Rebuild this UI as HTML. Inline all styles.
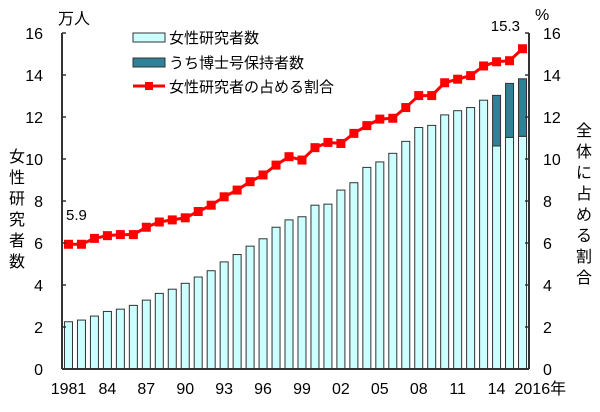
<!DOCTYPE html>
<html><head><meta charset="utf-8"><style>
body{margin:0;background:#fff;}
svg text{font-family:"Liberation Sans","Noto Sans CJK JP",sans-serif;fill:#000;}
</style></head><body>
<svg id="chart" width="600" height="407" xmlns="http://www.w3.org/2000/svg">
<g id="bars"></g>
<g id="line"></g>
<g id="axes"></g>
<text x="58" y="24" font-size="16">万人</text>
<text x="535" y="20" font-size="16">%</text>
<text x="66" y="220" font-size="15">5.9</text>
<text x="520" y="31" font-size="15" text-anchor="end">15.3</text>
<text font-size="16" text-anchor="middle">
<tspan x="17" y="162">女</tspan><tspan x="17" y="183">性</tspan><tspan x="17" y="204">研</tspan><tspan x="17" y="225">究</tspan><tspan x="17" y="246">者</tspan><tspan x="17" y="267">数</tspan></text>
<text font-size="16" text-anchor="middle">
<tspan x="584" y="136">全</tspan><tspan x="584" y="157">体</tspan><tspan x="584" y="178">に</tspan><tspan x="584" y="199">占</tspan><tspan x="584" y="220">め</tspan><tspan x="584" y="241">る</tspan><tspan x="584" y="262">割</tspan><tspan x="584" y="283">合</tspan></text>
<g>
<rect x="133" y="33" width="32" height="9" fill="#ccffff" stroke="#333"/>
<text x="169" y="43" font-size="15">女性研究者数</text>
<rect x="133" y="58" width="32" height="9" fill="#2e8197" stroke="#333"/>
<text x="169" y="68" font-size="15">うち博士号保持者数</text>
<line x1="133" y1="86" x2="165" y2="86" stroke="#f00" stroke-width="3"/>
<rect x="145" y="82" width="8" height="8" fill="#f00"/>
<text x="169" y="92" font-size="15">女性研究者の占める割合</text>
</g>
</svg>
<script>
const years=[1981,1982,1983,1984,1985,1986,1987,1988,1989,1990,1991,1992,1993,1994,1995,1996,1997,1998,1999,2000,2001,2002,2003,2004,2005,2006,2007,2008,2009,2010,2011,2012,2013,2014,2015,2016];
const women=[2.25,2.33,2.52,2.74,2.85,3.03,3.28,3.6,3.8,4.08,4.38,4.68,5.1,5.45,5.85,6.2,6.75,7.1,7.25,7.8,7.85,8.52,8.87,9.6,9.86,10.27,10.84,11.5,11.6,12.1,12.3,12.45,12.8,13.03,13.6,13.82];
const doctor=[null,null,null,null,null,null,null,null,null,null,null,null,null,null,null,null,null,null,null,null,null,null,null,null,null,null,null,null,null,null,null,null,null,2.41,2.57,2.74];
const ratio=[5.94,5.94,6.22,6.35,6.4,6.4,6.75,7.0,7.1,7.2,7.5,7.8,8.2,8.52,8.92,9.24,9.71,10.11,9.95,10.54,10.79,10.74,11.22,11.59,11.9,11.94,12.45,13.02,13.02,13.63,13.8,13.97,14.43,14.63,14.68,15.25];
const yTicks=[0,2,4,6,8,10,12,14,16];
const xLabels=["1981","84","87","90","93","96","99","02","05","08","11","14","2016年"];
const NS="http://www.w3.org/2000/svg";
const L=62,R=529,T=33,B=369;
const slot=(R-L)/years.length;
const x=i=>L+slot*(i+0.5);
const y=v=>B-(v/16)*(B-T);
function mk(tag,attrs,parent){const e=document.createElementNS(NS,tag);for(const k in attrs)e.setAttribute(k,attrs[k]);parent.appendChild(e);return e;}
const gb=document.getElementById('bars'),gl=document.getElementById('line'),ga=document.getElementById('axes');
years.forEach((yr,i)=>{
  const bw=8;
  const base=doctor[i]!=null?women[i]-doctor[i]:women[i];
  const r=mk('rect',{x:x(i)-bw/2,y:y(base),width:bw,height:B-y(base),fill:'#ccffff',stroke:'#333','stroke-width':1},gb);
  
  
  if(doctor[i]!=null){
    const d=mk('rect',{x:x(i)-bw/2,y:y(women[i]),width:bw,height:y(base)-y(women[i]),fill:'#2e8197',stroke:'#333','stroke-width':1},gb);
    
    
  }
});
const pl=mk('polyline',{points:ratio.map((v,i)=>x(i)+','+y(v)).join(' '),fill:'none',stroke:'#f00','stroke-width':3},gl);


ratio.forEach((v,i)=>{
  const p=mk('rect',{x:x(i)-4.5,y:y(v)-4.5,width:9,height:9,fill:'#f00'},gl);
  
  
});
mk('line',{x1:L,y1:T,x2:L,y2:B,stroke:'#333','stroke-width':2},ga);
mk('line',{x1:R,y1:T,x2:R,y2:B,stroke:'#333','stroke-width':2},ga);
mk('line',{x1:L,y1:B,x2:R,y2:B,stroke:'#333','stroke-width':2},ga);
yTicks.forEach(t=>{
  mk('line',{x1:L,y1:y(t),x2:L+4,y2:y(t),stroke:'#333','stroke-width':1.5},ga);
  mk('line',{x1:R-4,y1:y(t),x2:R,y2:y(t),stroke:'#333','stroke-width':1.5},ga);
  const a=mk('text',{x:43,y:y(t)+6,'font-size':16,'text-anchor':'end'},ga);a.textContent=t;
  
  
  const b=mk('text',{x:543,y:y(t)+6,'font-size':16},ga);b.textContent=t;
  
  
});
xLabels.forEach((lb,k)=>{
  const i=k*3;
  const t=mk('text',{x:(k===xLabels.length-1?x(35)-8:x(i)),y:394,'font-size':16,'text-anchor':(k===xLabels.length-1?'start':'middle')},ga);
  t.textContent=lb;
  
  
});
</script>
</body></html>
